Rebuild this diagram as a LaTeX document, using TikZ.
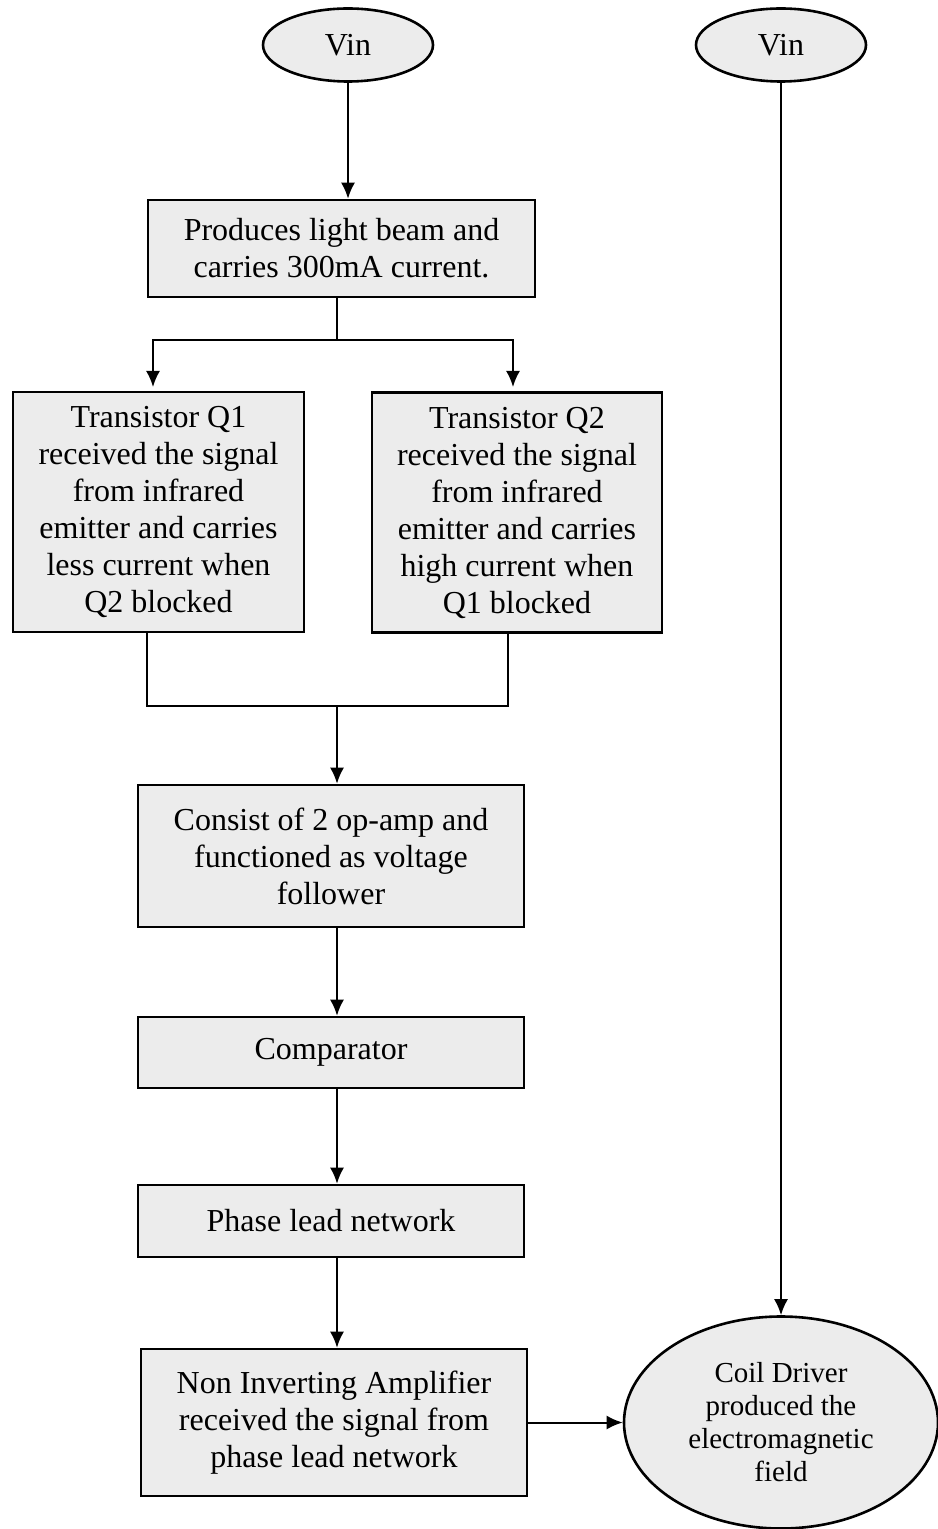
\documentclass[tikz,border=0pt]{standalone}
\usepackage{fontspec}
\setmainfont{Liberation Serif}
\usetikzlibrary{shapes.geometric,arrows.meta}

\definecolor{boxgray}{RGB}{236,236,236}

\tikzset{
    block/.style={draw, line width=1.3pt, fill=boxgray, align=center, inner sep=0pt,
        font=\fontsize{16}{18.5}\selectfont},
    source/.style={ellipse, draw, line width=1.3pt, fill=boxgray, inner sep=0pt,
        minimum width=85pt, minimum height=36.5pt, font=\fontsize{16}{18.5}\selectfont},
    wire/.style={line width=1pt},
    flow/.style={line width=1pt, -{Latex[length=8pt,width=7pt]}},
}

\begin{document}
\begin{tikzpicture}[x=0.5pt, y=-0.5pt]
            \useasboundingbox (0,0) rectangle (937,1529);

            \node[source] (vinA) at (348,45) {Vin};
            \node[source] (vinB) at (781,45) {Vin};

            \node[block, minimum width=193.5pt, minimum height=48.5pt] (beam) at (341.5,248.5)
                {Produces light beam and\\carries 300mA current.};

            \node[block, minimum width=145.5pt, minimum height=120pt] (qone) at (158.5,512)
                {Transistor Q1\\received the signal\\from infrared\\emitter and carries\\less current when\\Q2 blocked};
            \node[block, minimum width=145pt, minimum height=120pt] (qtwo) at (517,512.5)
                {Transistor Q2\\received the signal\\from infrared\\emitter and carries\\high current when\\Q1 blocked};

            \node[block, minimum width=193pt, minimum height=71pt] (follow) at (331,856)
                {Consist of 2 op-amp and\\functioned as voltage\\follower};
            \node[block, minimum width=193pt, minimum height=35.5pt] (comp) at (331,1052.5) {Comparator};
            \node[block, minimum width=193pt, minimum height=36pt] (phase) at (331,1221) {Phase lead network};
            \node[block, minimum width=193pt, minimum height=73.5pt] (amp) at (334,1422.5)
                {Non Inverting Amplifier\\received the signal from\\phase lead network};

            \node[ellipse, draw, line width=1.3pt, fill=boxgray, inner sep=0pt,
                minimum width=157pt, minimum height=106pt,
                font=\fontsize{14.5}{16.5}\selectfont, align=center] (coil) at (781,1422.5)
                {Coil Driver\\produced the\\electromagnetic\\field};

            \coordinate (split) at (337,340);
            \coordinate (join) at (337,706);

            \draw[flow] (vinA.south) -- (vinA.south |- beam.north);
            \draw[wire] (beam.south -| split) -- (split);
            \draw[flow] (split) -| (153,387);
            \draw[flow] (split) -| (513,387);

            \draw[wire] (qone.south -| 147,0) |- (join) -| (qtwo.south -| 508,0);
            \draw[flow] (join) -- (follow.north -| join);

            \draw[flow] (follow.south -| join) -- (comp.north -| join);
            \draw[flow] (comp.south -| join) -- (phase.north -| join);
            \draw[flow] (phase.south -| join) -- (amp.north -| join);

            \draw[flow] (vinB) -- (coil);
            \draw[flow] (amp.east) -- (coil.west);

        \end{tikzpicture}
\end{document}
